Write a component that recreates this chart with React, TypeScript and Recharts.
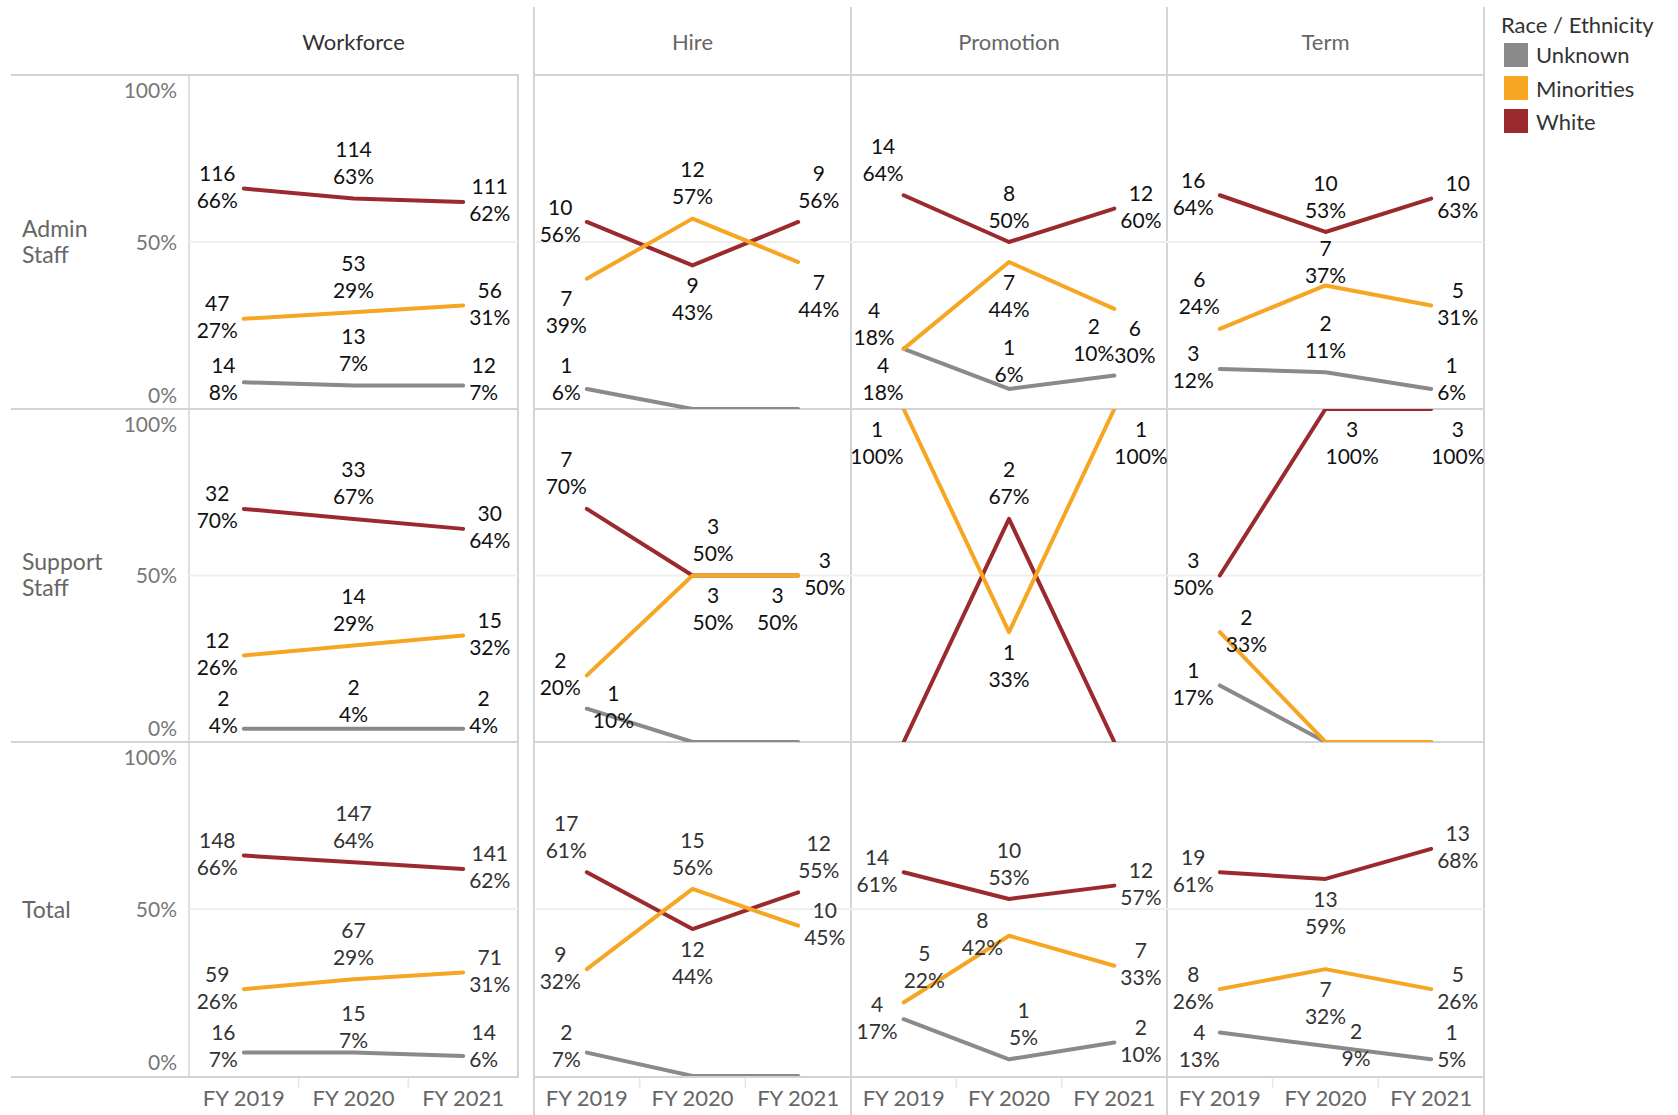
import React from 'react';
import { LineChart, Line, XAxis, YAxis, ReferenceLine } from 'recharts';

// ---------- categories ----------
const years = ['FY 2019', 'FY 2020', 'FY 2021'];
const races = ['Unknown', 'Minorities', 'White'];
const measures = ['Workforce', 'Hire', 'Promotion', 'Term'];
const groups = [['Admin', 'Staff'], ['Support', 'Staff'], ['Total']];
const yTicks = [0, 50, 100];

// ---------- values: [Unknown, Minorities, White] x [FY19, FY20, FY21] ----------
const workforceAdminPct = [[8, 7, 7], [27, 29, 31], [66, 63, 62]];
const workforceAdminCount = [[14, 13, 12], [47, 53, 56], [116, 114, 111]];
const workforceSupportPct = [[4, 4, 4], [26, 29, 32], [70, 67, 64]];
const workforceSupportCount = [[2, 2, 2], [12, 14, 15], [32, 33, 30]];
const workforceTotalPct = [[7, 7, 6], [26, 29, 31], [66, 64, 62]];
const workforceTotalCount = [[16, 15, 14], [59, 67, 71], [148, 147, 141]];

const hireAdminPct = [[6, 0, 0], [39, 57, 44], [56, 43, 56]];
const hireAdminCount = [[1, 0, 0], [7, 12, 7], [10, 9, 9]];
const hireSupportPct = [[10, 0, 0], [20, 50, 50], [70, 50, 50]];
const hireSupportCount = [[1, 0, 0], [2, 3, 3], [7, 3, 3]];
const hireTotalPct = [[7, 0, 0], [32, 56, 45], [61, 44, 55]];
const hireTotalCount = [[2, 0, 0], [9, 15, 10], [17, 12, 12]];

const promotionAdminPct = [[18, 6, 10], [18, 44, 30], [64, 50, 60]];
const promotionAdminCount = [[4, 1, 2], [4, 7, 6], [14, 8, 12]];
const promotionSupportPct = [[null, null, null], [100, 33, 100], [0, 67, 0]];
const promotionSupportCount = [[null, null, null], [1, 1, 1], [0, 2, 0]];
const promotionTotalPct = [[17, 5, 10], [22, 42, 33], [61, 53, 57]];
const promotionTotalCount = [[4, 1, 2], [5, 8, 7], [14, 10, 12]];

const termAdminPct = [[12, 11, 6], [24, 37, 31], [64, 53, 63]];
const termAdminCount = [[3, 2, 1], [6, 7, 5], [16, 10, 10]];
const termSupportPct = [[17, 0, 0], [33, 0, 0], [50, 100, 100]];
const termSupportCount = [[1, 0, 0], [2, 0, 0], [3, 3, 3]];
const termTotalPct = [[13, 9, 5], [26, 32, 26], [61, 59, 68]];
const termTotalCount = [[4, 2, 1], [8, 7, 5], [19, 13, 13]];

const pctTable: any[][] = [
  [workforceAdminPct, workforceSupportPct, workforceTotalPct],
  [hireAdminPct, hireSupportPct, hireTotalPct],
  [promotionAdminPct, promotionSupportPct, promotionTotalPct],
  [termAdminPct, termSupportPct, termTotalPct],
];
const countTable: any[][] = [
  [workforceAdminCount, workforceSupportCount, workforceTotalCount],
  [hireAdminCount, hireSupportCount, hireTotalCount],
  [promotionAdminCount, promotionSupportCount, promotionTotalCount],
  [termAdminCount, termSupportCount, termTotalCount],
];

// ---------- style: label placement per panel / race / year ----------
const labelPlacement: string[][][][] = [
  [
    [['L', 'A', 'R'], ['L', 'A', 'R'], ['L', 'A', 'R']],
    [['L', 'A:8', 'R'], ['L', 'A', 'R'], ['L', 'A', 'R']],
    [['L', 'A:10', 'R'], ['L', 'A', 'R'], ['L', 'A', 'R']],
  ],
  [
    [['L', '', ''], ['BL', 'A', 'BR'], ['L', 'B', 'AR']],
    [['R', '', ''], ['L', 'BR', 'BL'], ['AL', 'AR', 'R']],
    [['L', '', ''], ['L', 'A', 'R'], ['AL', 'B', 'AR']],
  ],
  [
    [['BL', 'A:7', 'AL'], ['LU', 'B', 'BR'], ['AL', 'A', 'R']],
    [['', '', ''], ['BL', 'B', 'BR'], ['', 'A', '']],
    [['L', 'AR', 'R'], ['AR', 'L', 'R'], ['L', 'A', 'R']],
  ],
  [
    [['L', 'A', 'R'], ['AL', 'A:12', 'R'], ['L', 'A', 'R']],
    [['L', '', ''], ['R', '', ''], ['L', 'BR', 'BR']],
    [['BL', 'RR', 'R'], ['L', 'B', 'R'], ['L', 'B', 'R']],
  ],
];

// ---------- layout / style ----------
const FONT = 'Lato, "Open Sans", "DejaVu Sans", sans-serif';
const COLORS = ['#8a8a8a', '#f6a623', '#9b2a2e'];
const DRAW_ORDER = [2, 0, 1];
const COL_LEFT = [189, 534, 851, 1167];
const COL_WIDTH = [329, 317, 316, 317];
const ROW_TOP = [75, 409, 742];
const ROW_H = [334, 333, 334];
const AXIS_W = 178;
const AXIS_H = 40;
const LABEL_SIZE = 21;
const LINE_GAP = 27;
const BORDER = '#d4d4d4';

let measureCtx: any = null;
function textWidth(s: string, size: number) {
  if (!measureCtx && typeof document !== 'undefined') {
    const c = document.createElement('canvas');
    measureCtx = c.getContext('2d');
  }
  if (!measureCtx) return s.length * size * 0.58;
  measureCtx.font = `${size}px Lato`;
  return measureCtx.measureText(s).width;
}

function makeLabel(counts: any[], places: string[], plotH: number, color: string) {
  return (props: any) => {
    const x = props.x ?? props.viewBox?.x;
    const y = props.y ?? props.viewBox?.y;
    const index = props.index;
    const value = props.value;
    if (value == null || value <= 0 || x == null || y == null) return null;
    const place = places[index];
    if (!place) return null;
    const [type, tw] = place.split(':');
    const tweak = tw ? Number(tw) : 0;
    const t1 = String(counts[index]);
    const t2 = `${value}%`;
    const w = Math.max(textWidth(t1, LABEL_SIZE), textWidth(t2, LABEL_SIZE));
    let cx = x;
    let c1 = y;
    switch (type) {
      case 'L': cx = x - 6 - w / 2; c1 = y - 15; break;
      case 'LU': cx = x - 9 - w / 2; c1 = y - 38; break;
      case 'R': cx = x + 6 + w / 2; c1 = y - 15; break;
      case 'RR': cx = x + 16 + w / 2; c1 = y - 15; break;
      case 'A': cx = x; c1 = y - 22 - LINE_GAP; break;
      case 'B': cx = x; c1 = y + 20; break;
      case 'AL': cx = x - w / 2; c1 = y - 22 - LINE_GAP; break;
      case 'AR': cx = x + w / 2; c1 = y - 22 - LINE_GAP; break;
      case 'BL': cx = x - w / 2; c1 = y + 20; break;
      case 'BR': cx = x + w / 2; c1 = y + 20; break;
      default: break;
    }
    c1 += tweak;
    c1 = Math.min(c1, plotH - 16.5 - LINE_GAP);
    c1 = Math.max(c1, 18);
    const base = 0.36 * LABEL_SIZE;
    return (
      <g key={`lbl-${index}`}>
        <text x={cx} y={c1 + base} textAnchor="middle" fontSize={LABEL_SIZE} fontFamily={FONT} fill={color}>{t1}</text>
        <text x={cx} y={c1 + LINE_GAP + base} textAnchor="middle" fontSize={LABEL_SIZE} fontFamily={FONT} fill={color}>{t2}</text>
      </g>
    );
  };
}

const XTick = (props: any) => {
  const { x, y, payload } = props;
  return (
    <text x={x} y={y + 30} textAnchor="middle" fontSize={22} fontFamily={FONT} fill="#666">{payload.value}</text>
  );
};

const YTick = (props: any) => {
  const { x, y, payload } = props;
  const v = payload.value;
  const shift = v === 100 ? 15 : v === 0 ? -14 : 0;
  return (
    <text x={x - 12} y={y + shift + 7.5} textAnchor="end" fontSize={21} fontFamily={FONT} fill="#777">{`${v}%`}</text>
  );
};

function Panel({ mi, gi }: { mi: number; gi: number }) {
  const pct = pctTable[mi][gi];
  const cnt = countTable[mi][gi];
  const places = labelPlacement[mi][gi];
  const first = mi === 0;
  const bottom = gi === 2;
  const plotW = COL_WIDTH[mi];
  const plotH = ROW_H[gi];
  const width = plotW + (first ? AXIS_W : 0);
  const height = plotH + (bottom ? AXIS_H : 0);
  const left = COL_LEFT[mi] - (first ? AXIS_W : 0);
  const data = years.map((year, i) => {
    const row: any = { year };
    races.forEach((r, ri) => { row[r] = pct[ri][i]; });
    return row;
  });
  const textColor = gi === 2 ? '#333' : '#111';
  return (
    <div style={{ position: 'absolute', left, top: ROW_TOP[gi], width, height }}>
      <LineChart width={width} height={height} data={data} margin={{ top: 0, right: 0, bottom: 0, left: 0 }} style={{ overflow: 'visible' }}>
        <XAxis
          dataKey="year"
          type="category"
          hide={!bottom}
          height={bottom ? AXIS_H : 0}
          axisLine={false}
          tickLine={false}
          tickSize={0}
          tickMargin={0}
          interval={0}
          padding={{ left: plotW / 6, right: plotW / 6 }}
          tick={XTick}
        />
        <YAxis
          type="number"
          domain={[0, 100]}
          ticks={yTicks}
          allowDataOverflow
          hide={!first}
          width={first ? AXIS_W : 0}
          axisLine={false}
          tickLine={false}
          tickSize={0}
          tickMargin={0}
          interval={0}
          tick={YTick}
        />
        <ReferenceLine y={50} stroke="#efefef" strokeWidth={2} />
        {DRAW_ORDER.map((ri) => (
          <Line
            key={races[ri]}
            dataKey={races[ri]}
            type="linear"
            stroke={COLORS[ri]}
            strokeWidth={4}
            strokeLinecap="round"
            strokeLinejoin="round"
            dot={false}
            activeDot={false}
            isAnimationActive={false}
            label={makeLabel(cnt[ri], places[ri], plotH, textColor)}
          />
        ))}
      </LineChart>
    </div>
  );
}

export default function App() {
  const hLines = [75, 409, 742, 1077];
  const rowLabelBaselines = [[237, 263], [570, 596], [918]];
  return (
    <div style={{ position: 'absolute', left: 0, top: 0, width: 1678, height: 1115, background: '#fff', fontFamily: FONT }}>
      <svg width={1678} height={1115} style={{ position: 'absolute', left: 0, top: 0 }}>
        {hLines.map((y) => (
          <g key={`h${y}`}>
            <line x1={11} x2={519} y1={y} y2={y} stroke={BORDER} strokeWidth={2} />
            <line x1={534} x2={1485} y1={y} y2={y} stroke={BORDER} strokeWidth={2} />
          </g>
        ))}
        <line x1={189} x2={189} y1={75} y2={1077} stroke={BORDER} strokeWidth={1.5} />
        <line x1={518} x2={518} y1={75} y2={1077} stroke={BORDER} strokeWidth={2} />
        {[534, 851, 1167, 1484].map((x) => (
          <line key={`v${x}`} x1={x} x2={x} y1={7} y2={1115} stroke={BORDER} strokeWidth={2} />
        ))}
        {COL_LEFT.map((cl, mi) => [1, 2].map((k) => (
          <line key={`t${mi}-${k}`} x1={cl + (COL_WIDTH[mi] * k) / 3} x2={cl + (COL_WIDTH[mi] * k) / 3} y1={1078} y2={1088} stroke="#e8e8e8" strokeWidth={1.5} />
        )))}
        {measures.map((m, mi) => (
          <text key={m} x={COL_LEFT[mi] + COL_WIDTH[mi] / 2} y={50} textAnchor="middle" fontSize={22} fontFamily={FONT} fill={mi === 0 ? '#333' : '#666'}>{m}</text>
        ))}
        {groups.map((g, gi) => g.map((word, wi) => (
          <text key={`${gi}-${wi}`} x={22} y={rowLabelBaselines[gi][wi]} fontSize={23} fontFamily={FONT} fill="#666">{word}</text>
        )))}
        <text x={1501} y={33} fontSize={22} fontFamily={FONT} fill="#333">Race / Ethnicity</text>
        {races.map((r, ri) => (
          <g key={r}>
            <rect x={1504} y={43 + ri * 33} width={24} height={24} fill={COLORS[ri]} />
            <text x={1536} y={63 + ri * 33.5} fontSize={22} fontFamily={FONT} fill="#333">{r}</text>
          </g>
        ))}
      </svg>
      {measures.map((m, mi) => groups.map((g, gi) => <Panel key={`${mi}-${gi}`} mi={mi} gi={gi} />))}
    </div>
  );
}
